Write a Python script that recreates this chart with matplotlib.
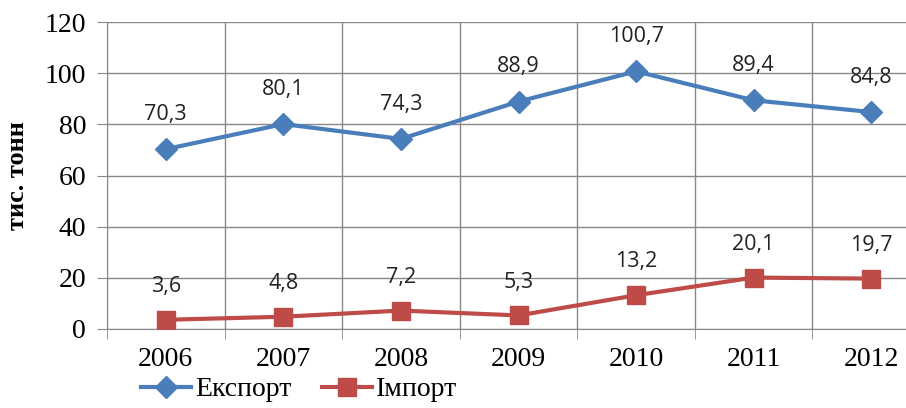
import numpy as np
import matplotlib.pyplot as plt

years = ['2006', '2007', '2008', '2009', '2010', '2011', '2012']
export = [70.3, 80.1, 74.3, 88.9, 100.7, 89.4, 84.8]
imports = [3.6, 4.8, 7.2, 5.3, 13.2, 20.1, 19.7]

blue = '#4A7EBB'
red = '#BE4B48'
grid = '#888888'

fig = plt.figure(figsize=(9.06, 4.08), dpi=100)
ax = fig.add_axes([107 / 906, 79 / 408, (930 - 107) / 906, 307 / 408])

x = np.arange(len(years))
ax.plot(x, export, color=blue, lw=3, marker='D', ms=11, label='Експорт', zorder=3)
ax.plot(x, imports, color=red, lw=3, marker='s', ms=13, label='Імпорт', zorder=3)

for xi, v in zip(x, export):
    ax.annotate(f'{v:.1f}'.replace('.', ','), (xi, v), xytext=(0, 25), textcoords='offset points',
                ha='center', va='center', fontsize=15.5, family='Open Sans', color='#222222')
for xi, v in zip(x, imports):
    ax.annotate(f'{v:.1f}'.replace('.', ','), (xi, v), xytext=(0, 24), textcoords='offset points',
                ha='center', va='center', fontsize=15.5, family='Open Sans', color='#222222')

ax.set_xlim(-0.5, 6.5)
ax.set_ylim(0, 120)
ax.set_yticks(range(0, 121, 20))
ax.set_xticks(x)
ax.set_xticklabels(years)
ax.set_xticks(np.arange(-0.5, 7, 1), minor=True)
ax.tick_params(axis='x', which='major', length=0, pad=13)
ax.tick_params(axis='x', which='minor', length=7, color=grid, direction='out')
ax.tick_params(axis='y', length=7, color=grid, pad=8)
for lab in ax.get_xticklabels() + ax.get_yticklabels():
    lab.set_family('Liberation Serif')
    lab.set_fontsize(20)

ax.grid(axis='y', which='major', color=grid, lw=1)
ax.grid(axis='x', which='minor', color=grid, lw=1)
ax.set_axisbelow(True)
for s in ['top', 'right']:
    ax.spines[s].set_visible(False)
for s in ['left', 'bottom']:
    ax.spines[s].set_color(grid)

ax.set_ylabel('тис. тонн', family='Liberation Serif', fontweight='bold', fontsize=19, labelpad=11)

ax.legend(loc='center left', bbox_to_anchor=(127 / 906, 0.045), bbox_transform=fig.transFigure,
          ncol=2, frameon=False, prop={'family': 'Liberation Serif', 'size': 20},
          handlelength=1.8, handletextpad=0.15, columnspacing=1.1, borderpad=0)

fig.savefig('out.png', dpi=100)
